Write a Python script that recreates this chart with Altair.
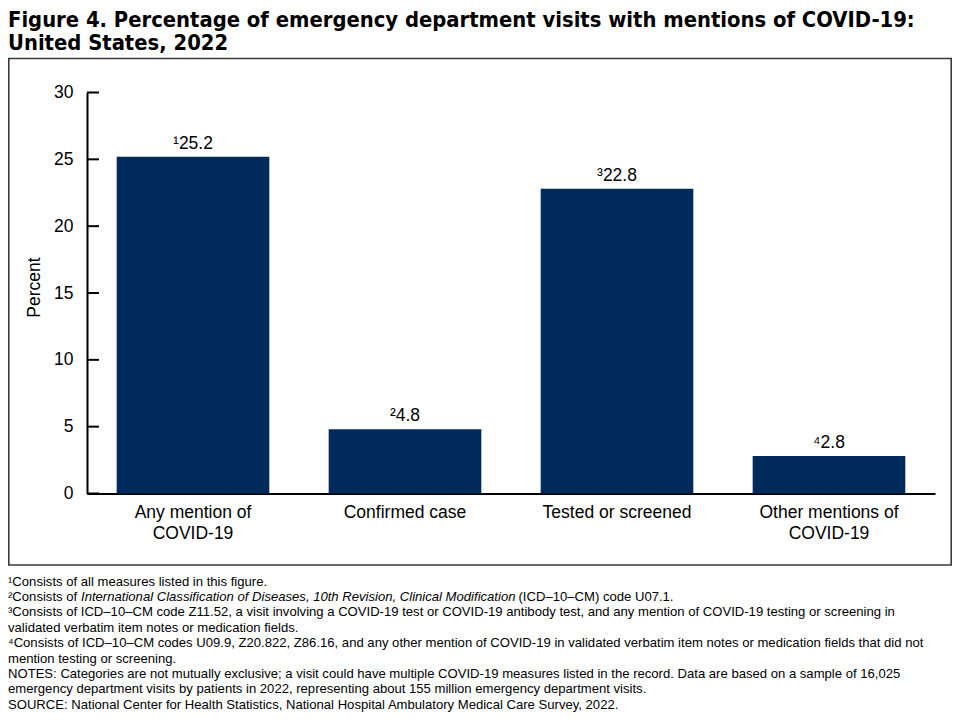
import altair as alt
import pandas as pd

# ---------------- data ----------------
categories = ["Any mention of COVID-19", "Confirmed case", "Tested or screened", "Other mentions of COVID-19"]
label_lines = [["Any mention of", "COVID-19"], ["Confirmed case"], ["Tested or screened"], ["Other mentions of", "COVID-19"]]
values = [25.2, 4.8, 22.8, 2.8]
note_marks = ["\u00b9", "\u00b2", "\u00b3", "\u2074"]
y_ticks = [0, 5, 10, 15, 20, 25, 30]

title_lines = [
    "Figure 4. Percentage of emergency department visits with mentions of COVID-19:",
    "United States, 2022",
]
y_title = "Percent"

footnotes = [
    "\u00b9Consists of all measures listed in this figure.",
    None,  # line 2 has an italic part, drawn in pieces
    "\u00b3Consists of ICD\u201310\u2013CM code Z11.52, a visit involving a COVID-19 test or COVID-19 antibody test, and any mention of COVID-19 testing or screening in",
    "validated verbatim item notes or medication fields.",
    "\u2074Consists of ICD\u201310\u2013CM codes U09.9, Z20.822, Z86.16, and any other mention of COVID-19 in validated verbatim item notes or medication fields that did not",
    "mention testing or screening.",
    "NOTES: Categories are not mutually exclusive; a visit could have multiple COVID-19 measures listed in the record. Data are based on a sample of 16,025",
    "emergency department visits by patients in 2022, representing about 155 million emergency department visits.",
    "SOURCE: National Center for Health Statistics, National Hospital Ambulatory Medical Care Survey, 2022.",
]
fn2_parts = [
    "\u00b2Consists of ",
    "International Classification of Diseases, 10th Revision, Clinical Modification",
    " (ICD\u201310\u2013CM) code U07.1.",
]

# ---------------- styling ----------------
FONT = "Liberation Sans, Arial, Helvetica, sans-serif"
TITLE_FONT = "Liberation Sans Narrow, Arial Narrow, DejaVu Sans Condensed, sans-serif"
BAR_COLOR = "#002A5C"
W, H = 848, 401
TOTAL_W, TOTAL_H = 944, 704

df = pd.DataFrame({"category": categories, "value": values, "sup": note_marks})

label_expr = ""
for cat, lines in zip(categories, label_lines):
    arr = "[" + ", ".join("'" + l + "'" for l in lines) + "]"
    label_expr += f"datum.value == '{cat}' ? {arr} : "
label_expr += "datum.label"

x_enc = alt.X(
    "category:N",
    sort=categories,
    scale=alt.Scale(paddingInner=0.28, paddingOuter=0.14),
    axis=alt.Axis(
        title=None, labelAngle=0, ticks=False, tickSize=0, labelPadding=10,
        labelExpr=label_expr, labelFontSize=17.5, labelFont=FONT, labelColor="black",
        labelLineHeight=21, domainColor="black", domainWidth=2,
    ),
)
y_scale = alt.Scale(domain=[0, 30], nice=False, zero=True)
y_enc = alt.Y(
    "value:Q",
    scale=y_scale,
    axis=alt.Axis(
        title=None, values=y_ticks, ticks=False, tickSize=0, labelPadding=14,
        labelFontSize=17.5, labelFont=FONT, labelColor="black", grid=False,
        domainColor="black", domainWidth=2,
    ),
)

bars = alt.Chart(df).mark_bar(color=BAR_COLOR).encode(x=x_enc, y=y_enc)

labels = (
    alt.Chart(df)
    .transform_calculate(lab="datum.sup + format(datum.value, '.1f')")
    .mark_text(baseline="alphabetic", dy=-8, fontSize=17.5, font=FONT, color="black")
    .encode(x=alt.X("category:N", sort=categories), y=alt.Y("value:Q"), text="lab:N")
)

ticks = (
    alt.Chart(pd.DataFrame({"t": y_ticks}))
    .mark_rule(color="black", strokeWidth=2)
    .encode(y=alt.Y("t:Q"), x=alt.value(0), x2=alt.value(12))
)

# page -> plot coordinates: plot origin at page (87, 92.5)
OX, OY = 87, 92.5


def text_layer(txt, px, py, size, font=FONT, weight="normal", style="normal", angle=0,
               align="left", baseline="alphabetic"):
    kw = dict(fontSize=size, font=font, fontWeight=weight, fontStyle=style, align=align,
              baseline=baseline, color="black")
    if angle:
        kw["angle"] = angle
    return (
        alt.Chart(pd.DataFrame({"t": [txt]}))
        .mark_text(**kw)
        .encode(text="t:N", x=alt.value(px - OX), y=alt.value(py - OY))
    )


layers = []
frame = (
    alt.Chart(pd.DataFrame({"a": [0]}))
    .mark_rect(filled=False, stroke="#3a3a3a", strokeWidth=1.6)
    .encode(x=alt.value(8.8 - OX), x2=alt.value(951.2 - OX), y=alt.value(58.5 - OY), y2=alt.value(565 - OY))
)
layers.append(frame)
layers += [bars, ticks, labels]

# title
layers.append(text_layer(title_lines[0], 8, 26.5, 21.8, font=TITLE_FONT, weight="bold"))
layers.append(text_layer(title_lines[1], 8, 50, 21.8, font=TITLE_FONT, weight="bold"))

# y axis title
layers.append(text_layer(y_title, 35, 287.5, 17.5, angle=270, align="center", baseline="middle"))

# footnotes
FN_SIZE = 13.1
for i, line in enumerate(footnotes):
    by = 585.5 + 15.4 * i
    if line is None:
        layers.append(text_layer(fn2_parts[0], 8, by, FN_SIZE))
        layers.append(text_layer(fn2_parts[1], 81, by, FN_SIZE, style="italic"))
        layers.append(text_layer(fn2_parts[2], 518.5, by, FN_SIZE))
    else:
        layers.append(text_layer(line, 8, by, FN_SIZE))

chart = (
    alt.layer(*layers)
    .properties(
        width=W,
        height=H,
        autosize=alt.AutoSizeParams(type="none"),
        padding={"left": OX - 8, "top": OY - 8, "right": TOTAL_W - (OX - 8) - W,
                 "bottom": TOTAL_H - (OY - 8) - H},
        background="white",
    )
    .configure_view(stroke=None)
)

chart.save("out.html", embed_options={"renderer": "svg", "actions": False})
